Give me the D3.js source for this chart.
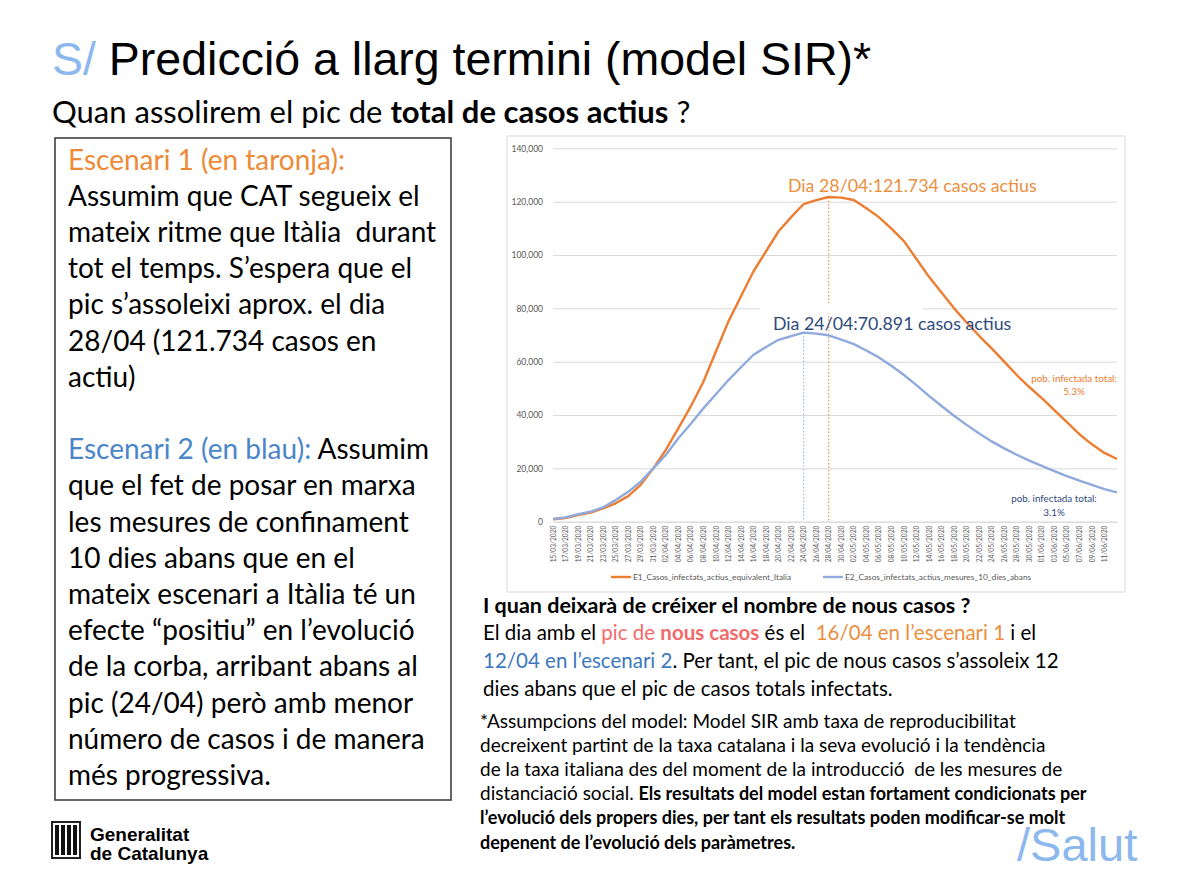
<!DOCTYPE html>
<html>
<head>
<meta charset="utf-8">
<script src="https://cdn.jsdelivr.net/npm/d3@7"></script>
<style>
	body { margin: 0; background: #fff; }
	svg { display: block; }
	text { white-space: pre; }
</style>
</head>
<body>
<main></main>
<script>

// DATA
// one point every 2 days, 15/03 -> 13/06
const dates = [
	"15/03/2020", "17/03/2020", "19/03/2020", "21/03/2020", "23/03/2020", "25/03/2020",
	"27/03/2020", "29/03/2020", "31/03/2020", "02/04/2020", "04/04/2020", "06/04/2020",
	"08/04/2020", "10/04/2020", "12/04/2020", "14/04/2020", "16/04/2020", "18/04/2020",
	"20/04/2020", "22/04/2020", "24/04/2020", "26/04/2020", "28/04/2020", "30/04/2020",
	"02/05/2020", "04/05/2020", "06/05/2020", "08/05/2020", "10/05/2020", "12/05/2020",
	"14/05/2020", "16/05/2020", "18/05/2020", "20/05/2020", "22/05/2020", "24/05/2020",
	"26/05/2020", "28/05/2020", "30/05/2020", "01/06/2020", "03/06/2020", "05/06/2020",
	"07/06/2020", "09/06/2020", "11/06/2020", "13/06/2020"
];
const e1Values = [
	900, 1400, 2500, 3400, 5000, 6900, 9600, 13800, 20000, 26900, 35000, 43300,
	52500, 63800, 75100, 84500, 93900, 101400, 108900, 114200, 119100, 120600, 121734, 121500,
	120600, 117500, 114200, 109900, 105200, 98500, 91800, 85900, 80000, 74700, 69700, 65000,
	60000, 55000, 50500, 46300, 41800, 37300, 32800, 29000, 25800, 23500
];
const e2Values = [
	1000, 1600, 2800, 3800, 5400, 8100, 11200, 15000, 20000, 25000, 31300, 36700,
	42500, 47800, 53100, 57900, 62600, 65500, 68200, 69600, 70891, 70500, 69900, 68300,
	66600, 64200, 61600, 58500, 55000, 51200, 47200, 43400, 39700, 36300, 33100, 30100,
	27500, 25100, 22900, 20900, 19000, 17100, 15400, 13800, 12200, 11000
];
// last date carries no label
const tickLabels = dates.slice(0, -1);
const yTicks = [0, 20000, 40000, 60000, 80000, 100000, 120000, 140000];
const seriesNames = ["E1_Casos_infectats_actius_equivalent_Italia", "E2_Casos_infectats_actius_mesures_10_dies_abans"];
const peakDates = ["28/04/2020", "24/04/2020"];
const peakValues = [121734, 70891];
const peakLabels = ["Dia 28/04:121.734 casos actius", "Dia 24/04:70.891 casos actius"];
const endLabels = [["pob. infectada total:", "5.3%"], ["pob. infectada total:", "3.1%"]];


// COLOURS
const ORANGE = "#ED7D31";
const BLUE = "#8FAADC";
const ORANGE_TXT = "#EA9040";
const BLUE_TXT = "#2F4B7C";
const SKY = "#8DB8EE";
const CALIBRI = "Lato, 'Open Sans', sans-serif";
const HELV = "'Liberation Sans', Arial, sans-serif";


// UTILITIES
// write a text line made of coloured / bold segments
const richText = (parent, x, y, size, segments, family) => {
	const t = parent.append("text")
		.attr("x", x)
		.attr("y", y)
		.attr("font-family", family || CALIBRI)
		.attr("font-size", size)
		.attr("fill", "#000");
	segments.forEach(s => {
		const seg = typeof s === "string" ? { t: s } : s;
		const ts = t.append("tspan")
			.text(seg.t)
			.attr("fill", seg.c || "#000")
			.attr("font-weight", seg.b ? "bold" : "normal");
		if (seg.s) ts.attr("font-size", seg.s);
	});
	return t;
};


// CHART
function drawChart(svg) {
	const parse = d3.utcParse("%d/%m/%Y");
	const left = 553, right = 1117, top = 148.3, bottom = 521.7;

	// frame
	svg.append("rect")
		.attr("x", 507).attr("y", 136)
		.attr("width", 618).attr("height", 456)
		.attr("fill", "#fff")
		.attr("stroke", "#D9D9D9");

	// scales
	const xScale = d3.scaleUtc()
		.domain([parse(dates[0]), parse(dates[dates.length - 1])])
		.range([left, right]);
	const yScale = d3.scaleLinear()
		.domain([0, 140000])
		.range([bottom, top]);

	// y axis + gridlines
	const yAxis = d3.axisLeft(yScale)
		.tickValues(yTicks)
		.tickSize(-(right - left))
		.tickPadding(10)
		.tickFormat(d3.format(","));
	const gy = svg.append("g")
		.attr("transform", `translate(${left},0)`)
		.call(yAxis);
	gy.select(".domain").remove();
	gy.selectAll("line").attr("stroke", "#D9D9D9");
	gy.selectAll("text")
		.attr("fill", "#595959")
		.attr("font-family", CALIBRI)
		.attr("font-size", 8.5);

	// x axis
	const xAxis = d3.axisBottom(xScale)
		.tickValues(tickLabels.map(parse))
		.tickSize(0)
		.tickFormat(d3.utcFormat("%d/%m/%Y"));
	const gx = svg.append("g")
		.attr("transform", `translate(0,${bottom})`)
		.call(xAxis);
	gx.select(".domain").attr("stroke", "#D9D9D9");
	gx.selectAll("text")
		.attr("transform", "rotate(-90)")
		.attr("text-anchor", "end")
		.attr("x", -4)
		.attr("y", 0)
		.attr("dy", "0.32em")
		.attr("fill", "#595959")
		.attr("font-family", CALIBRI)
		.attr("font-size", 6.6);

	// peak markers
	[ORANGE, BLUE].forEach((col, i) => {
		const x = xScale(parse(peakDates[i]));
		svg.append("line")
			.attr("x1", x).attr("x2", x)
			.attr("y1", yScale(peakValues[i])).attr("y2", yScale(0))
			.attr("stroke", col)
			.attr("stroke-width", 1)
			.attr("stroke-dasharray", "1.5,2");
	});

	// white box behind the blue label (breaks the gridline like the original)
	svg.append("rect")
		.attr("x", 760).attr("y", yScale(80000) - 5)
		.attr("width", 163).attr("height", 10)
		.attr("fill", "#fff");

	// lines
	const series = [e1Values, e2Values];
	const line = d3.line()
		.x((d, i) => xScale(parse(dates[i])))
		.y(d => yScale(d));
	[ORANGE, BLUE].forEach((col, i) => {
		svg.append("path")
			.datum(series[i])
			.attr("d", line)
			.attr("fill", "none")
			.attr("stroke", col)
			.attr("stroke-width", 2.4)
			.attr("stroke-linejoin", "round");
	});

	// peak labels
	svg.append("text")
		.attr("x", 788).attr("y", 192)
		.attr("font-family", CALIBRI).attr("font-size", 17.8)
		.attr("fill", ORANGE_TXT)
		.text(peakLabels[0]);
	svg.append("text")
		.attr("x", 773).attr("y", 329.5)
		.attr("font-family", CALIBRI).attr("font-size", 17.8)
		.attr("fill", BLUE_TXT)
		.text(peakLabels[1]);

	// end labels
	const endPos = [[1074, 381.5], [1054, 502]];
	[ORANGE, BLUE_TXT].forEach((col, i) => {
		endLabels[i].forEach((s, j) => {
			svg.append("text")
				.attr("x", endPos[i][0]).attr("y", endPos[i][1] + j * 13.5)
				.attr("text-anchor", "middle")
				.attr("font-family", CALIBRI).attr("font-size", 9.8)
				.attr("fill", col)
				.text(s);
		});
	});

	// legend
	const legX = [611, 823];
	[ORANGE, BLUE].forEach((col, i) => {
		svg.append("line")
			.attr("x1", legX[i]).attr("x2", legX[i] + 20)
			.attr("y1", 577).attr("y2", 577)
			.attr("stroke", col).attr("stroke-width", 2.4);
		svg.append("text")
			.attr("x", legX[i] + 22).attr("y", 580)
			.attr("font-family", CALIBRI).attr("font-size", 8.3)
			.attr("fill", "#595959")
			.text(seriesNames[i]);
	});
}


// PAGE
function drawPage() {
	const svg = d3.select("main").append("svg")
		.attr("width", 1182)
		.attr("height", 882)
		.style("background-color", "#fff");

	// title
	richText(svg, 52, 75, 46.5, [{ t: "S/", c: SKY }, " Predicció a llarg termini (model SIR)*"], HELV);
	richText(svg, 52, 123, 31, ["Quan assolirem el pic de ", { t: "total de casos actius", b: true }, " ?"]);

	// left box
	svg.append("rect")
		.attr("x", 55).attr("y", 138)
		.attr("width", 396).attr("height", 662)
		.attr("fill", "none")
		.attr("stroke", "#404040")
		.attr("stroke-width", 1.6);
	const boxLines = [
		[{ t: "Escenari 1 (en taronja):", c: "#EE8A36" }],
		["Assumim que CAT segueix el"],
		["mateix ritme que Itàlia  durant"],
		["tot el temps. S’espera que el"],
		["pic s’assoleixi aprox. el dia"],
		["28/04 (121.734 casos en"],
		["actiu)"],
		[""],
		[{ t: "Escenari 2 (en blau):", c: "#4A86C8" }, " Assumim"],
		["que el fet de posar en marxa"],
		["les mesures de confinament"],
		["10 dies abans que en el"],
		["mateix escenari a Itàlia té un"],
		["efecte “positiu” en l’evolució"],
		["de la corba, arribant abans al"],
		["pic (24/04) però amb menor"],
		["número de casos i de manera"],
		["més progressiva."]
	];
	boxLines.forEach((segs, i) => richText(svg, 68, 169.5 + i * 36.2, 28, segs));

	// chart
	drawChart(svg);

	// text under the chart
	const RED = "#F26A6A";
	richText(svg, 483, 612.5, 21.5, [{ t: "I quan deixarà de créixer el nombre de nous casos ?", b: true }]);
	richText(svg, 483, 639.5, 20.5, ["El dia amb el ", { t: "pic de ", c: RED }, { t: "nous casos", c: RED, b: true },
		" és el  ", { t: "16/04 en l’escenari 1", c: ORANGE_TXT }, " i el"]);
	richText(svg, 483, 667.5, 20.5, [{ t: "12/04 en l’escenari 2", c: "#3D78C0" }, ". Per tant, el pic de nous casos s’assoleix 12"]);
	richText(svg, 483, 695.5, 20.5, ["dies abans que el pic de casos totals infectats."]);

	const notes = [
		["*Assumpcions del model: Model SIR amb taxa de reproducibilitat"],
		["decreixent partint de la taxa catalana i la seva evolució i la tendència"],
		["de la taxa italiana des del moment de la introducció  de les mesures de"],
		["distanciació social. ", { t: "Els resultats del model estan fortament condicionats per", b: true, s: 18 }],
		[{ t: "l’evolució dels propers dies, per tant els resultats poden modificar-se molt", b: true, s: 18 }],
		[{ t: "depenent de l’evolució dels paràmetres.", b: true, s: 18 }]
	];
	notes.forEach((segs, i) => richText(svg, 480, 727.5 + i * 24.2, 19, segs));

	// logo
	const logo = svg.append("g").attr("transform", "translate(52,822)");
	logo.append("rect").attr("width", 28).attr("height", 36).attr("fill", "#fff").attr("stroke", "#222").attr("stroke-width", 2);
	[5, 11, 17, 23].forEach(x => {
		logo.append("rect").attr("x", x - 2).attr("y", 3).attr("width", 4).attr("height", 30).attr("fill", "#111");
	});
	richText(svg, 90, 841, 19, [{ t: "Generalitat", b: true }], HELV);
	richText(svg, 90, 860, 19, [{ t: "de Catalunya", b: true }], HELV);

	richText(svg, 1017, 861, 47, [{ t: "/Salut", c: SKY }], HELV);
}


// MAIN
document.addEventListener("DOMContentLoaded", () => {
	drawPage();
});
</script>
</body>
</html>
